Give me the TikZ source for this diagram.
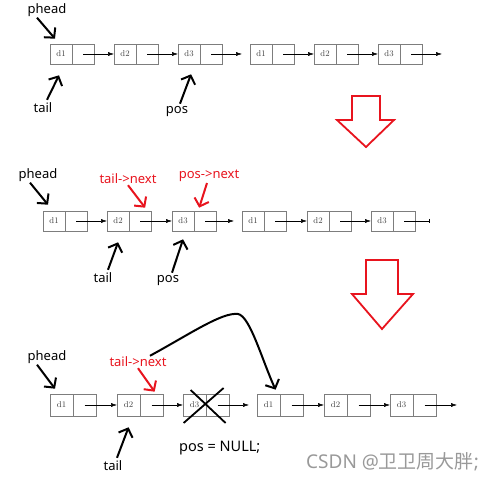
\documentclass[tikz,border=0pt]{standalone}
\usepackage{fontspec}
\setsansfont{Noto Sans}
\newfontfamily\cjkfont{Noto Sans CJK SC}
\usetikzlibrary{arrows.meta}

\definecolor{notered}{RGB}{232,20,30}
\definecolor{cellgray}{RGB}{125,125,125}

\tikzset{
	cellbox/.style={draw=cellgray, line width=0.6pt, inner sep=0pt, anchor=west,
		font=\fontsize{8.5}{8.5}\selectfont, text=black!75},
	link/.style={line width=0.5pt, -{Latex[length=6pt,width=4pt]}},
	label/.style={font=\sffamily\fontsize{13}{13}\selectfont, inner sep=1pt},
	redlabel/.style={label, text=notered},
	hand/.style={line width=2pt, -{Straight Barb[length=7pt,width=15pt]}},
	redhand/.style={hand, draw=notered},
	bigarrow/.style={draw=notered, line width=1.8pt, line join=miter}
}

\begin{document}
\begin{tikzpicture}[x=1pt,y=-1pt]
	\useasboundingbox (0,0) rectangle (499,481);

	% first list
	\foreach \x/\t [count=\i] in {50/d1,114/d2,178/d3,250/d1,314/d2,378/d3} {
		\node[cellbox, minimum width=21.5pt, minimum height=20pt] (a\i) at (\x,54) {\t};
		\node[cellbox, minimum width=21.5pt, minimum height=20pt] (ap\i) at (a\i.east) {};
	}
	\foreach \i/\j in {1/2,2/3,4/5,5/6}
		\draw[link] (ap\i.center) -- (a\j.west);
	\draw[link, shorten >=8pt] (ap3.center) -- (a4.west);
	\coordinate (aend) at (442,54);
	\draw[link] (ap6.center) -- (aend);

	\node[label] (ph1) at (47,10) {phead};
	\node[label] (tl1) at (43,108) {tail};
	\node[label] (ps1) at (177,112) {pos};
	\draw[hand] ([xshift=-10pt]ph1.south) -- ([xshift=5pt,yshift=5pt]a1.north west);
	\draw[hand] ([xshift=4pt,yshift=2pt]tl1.north) -- ([xshift=9pt,yshift=-11pt]a1.south west);
	\draw[hand] ([xshift=3pt,yshift=2pt]ps1.north) -- ([xshift=2pt,yshift=-10pt]a3.south);

	% down arrows
	\draw[bigarrow] (352,96) -- (380,96) -- (380,120) -- (394,120) -- (366,147)
		-- (337,120) -- (352,120) -- cycle;
	\draw[bigarrow] (366,260) -- (398,260) -- (398,294) -- (413,294) -- (382,329)
		-- (352,294) -- (366,294) -- cycle;

	% second list
	\foreach \x/\t [count=\i] in {43/d1,107/d2,172/d3,242/d1,307/d2,371/d3} {
		\node[cellbox, minimum width=21.5pt, minimum height=20pt] (b\i) at (\x,221) {\t};
		\node[cellbox, minimum width=21.5pt, minimum height=20pt] (bp\i) at (b\i.east) {};
	}
	\foreach \i/\j in {1/2,2/3,4/5,5/6}
		\draw[link] (bp\i.center) -- (b\j.west);
	\draw[link, shorten >=8pt] (bp3.center) -- (b4.west);
	\coordinate (bend) at (429,221);
	\draw[line width=0.5pt, -{Bar[width=4pt]}] (bp6.center) -- (bend);

	\node[label] (ph2) at (38,175) {phead};
	\node[redlabel] (tn2) at (128,179) {tail->next};
	\node[redlabel] (pn2) at (209,176) {pos->next};
	\node[label] (tl2) at (103,278) {tail};
	\node[label] (ps2) at (168,281) {pos};
	\draw[hand] ([xshift=-8pt]ph2.south) -- ([xshift=5pt,yshift=6pt]b1.north west);
	\draw[redhand] (tn2.south) -- ([xshift=5pt,yshift=3pt]bp2.north);
	\draw[redhand] ([xshift=-2pt]pn2.south) -- ([xshift=-6pt,yshift=3pt]bp3.north);
	\draw[hand] ([xshift=5pt,yshift=2pt]tl2.north) -- ([yshift=-11pt]b2.south);
	\draw[hand] ([xshift=4pt,yshift=2pt]ps2.north) -- ([yshift=-8pt]b3.south);

	% third list
	\foreach \x/\t [count=\i] in {50/d1,117/d2,183/d3,257/d1,324/d2,390/d3} {
		\node[cellbox, minimum width=22.5pt, minimum height=22pt] (c\i) at (\x,405) {\t};
		\node[cellbox, minimum width=22.5pt, minimum height=22pt] (cp\i) at (c\i.east) {};
	}
	\foreach \i/\j in {1/2,2/3,4/5,5/6}
		\draw[link] (cp\i.center) -- (c\j.west);
	\draw[link, shorten >=8pt] (cp3.center) -- (c4.west);
	\coordinate (cend) at (457,405);
	\draw[link] (cp6.center) -- (cend);

	\node[label] (ph3) at (47,357) {phead};
	\node[redlabel] (tn3) at (138,362) {tail->next};
	\node[label] (tl3) at (113,466) {tail};
	\node[label, anchor=west, font=\sffamily\fontsize{14.5}{14.5}\selectfont] (nul3) at (178,448) {pos = NULL;};
	\draw[hand] ([xshift=-10pt]ph3.south) -- ([xshift=5pt,yshift=5pt]c1.north west);
	\draw[redhand] (tn3.south) -- ([xshift=3pt,yshift=2pt]cp2.north);
	\draw[hand] ([xshift=4pt,yshift=2pt]tl3.north) -- ([yshift=-11pt]c2.south);

	% removed node
	\draw[line width=1.8pt] ([xshift=-15.5pt,yshift=15pt]cp3.west) -- ([xshift=19.5pt,yshift=-18pt]cp3.west)
		([xshift=17.5pt,yshift=17pt]cp3.west) -- ([xshift=-22.5pt,yshift=-18pt]cp3.west);

	% new link
	\draw[hand] ([xshift=12pt]tn3.north) .. controls (190,334) and (222,312) .. (238,314)
		.. controls (250,316) and (262,360) .. ([xshift=-4.5pt,yshift=4pt]c4.north east);

	% watermark
	\node[font=\sffamily\fontsize{19}{19}\selectfont, text=black!40, anchor=west, inner sep=0pt]
		(mark) at (306,462) {CSDN @{\cjkfont 卫卫周大胖};};
\end{tikzpicture}
\end{document}
